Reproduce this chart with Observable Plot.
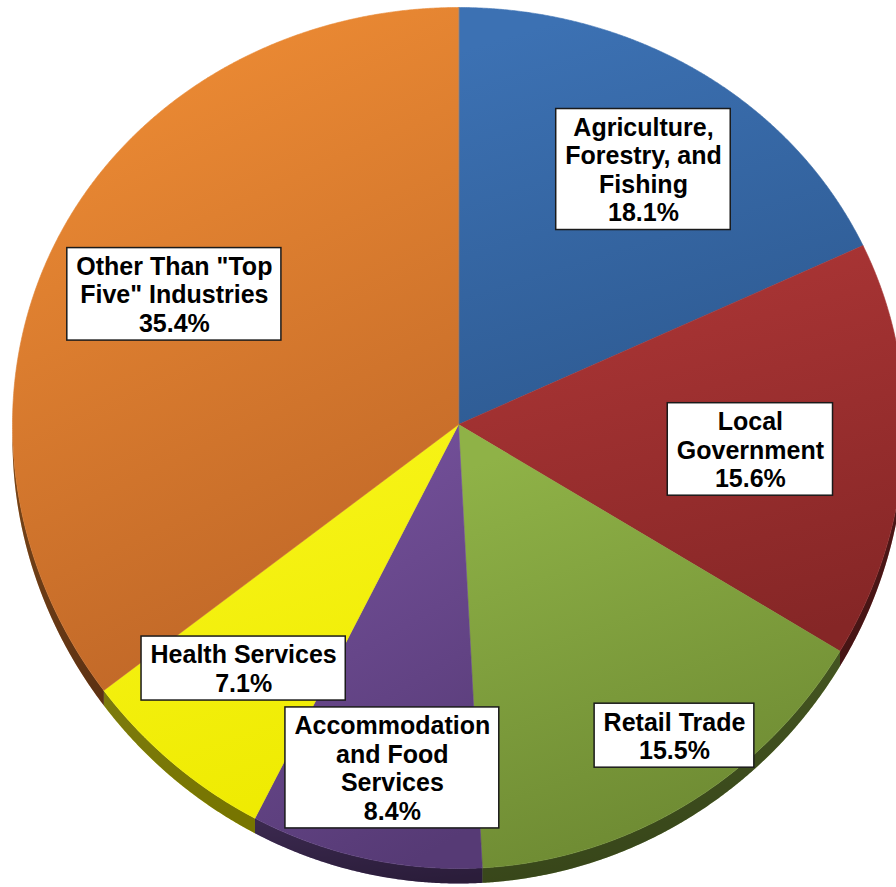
<!DOCTYPE html>
<html>
<head>
<meta charset="utf-8">
<script src="https://cdn.jsdelivr.net/npm/d3@7"></script>
<script src="https://cdn.jsdelivr.net/npm/@observablehq/plot@0.6"></script>
<style>
  html, body { margin: 0; padding: 0; background: #ffffff; }
  #chart { width: 896px; height: 887px; overflow: hidden; }
</style>
</head>
<body>
<div id="chart"></div>
<script>
// ---------- data ----------
const industries = [
  "Agriculture, Forestry, and Fishing",
  "Local Government",
  "Retail Trade",
  "Accommodation and Food Services",
  "Health Services",
  'Other Than "Top Five" Industries'
];
const shares = [18.1, 15.6, 15.5, 8.4, 7.1, 35.4];
const labelLines = [
  ["Agriculture,", "Forestry, and", "Fishing"],
  ["Local", "Government"],
  ["Retail Trade"],
  ["Accommodation", "and Food", "Services"],
  ["Health Services"],
  ['Other Than "Top', 'Five" Industries']
];

// ---------- layout / style (kept apart from the data) ----------
const W = 896, H = 887;
const RX = 446, RY = 430.5, CX = 458, CY = 424;   // pie geometry in pixels
const K = 0.03136;                               // perspective squash (top thinner than bottom)
const DEPTH = 15 / RY;                           // rim depth in y units
const labelRadius = [0.736, 0.657, 0.855, 0.788, 0.734, 0.707];   // fraction of radius
const labelTurn   = [1.75, 1.9, -3.57, -1.2, 1.1, -0.65];          // degrees from slice mid-angle
const faceTop    = ["#3c71b3", "#ad3636", "#8fb247", "#76529d", "#f8f51a", "#ee8c34"];
const faceBottom = ["#2d5990", "#852626", "#6b8731", "#563a75", "#eeea00", "#bd6527"];
const FONT = "'Liberation Sans', Arial, Helvetica, sans-serif";
const FONT_SIZE = 25, LINE_H = 1.14;

// ---------- geometry from data ----------
const proj = (t, r = 1) => [r * Math.sin(t), r * Math.cos(t) * (1 - K * Math.cos(t))];
const arcs = d3.pie().sort(null).value(d => d)(shares);

function arcPoints(t0, t1, step = 0.004) {
  const n = Math.max(2, Math.ceil((t1 - t0) / step));
  return d3.range(n + 1).map(j => proj(t0 + (t1 - t0) * j / n));
}

const faceRows = arcs.flatMap((a, i) => {
  const pts = [[0, 0], ...arcPoints(a.startAngle, a.endAngle)];
  return pts.map(([X, Y]) => ({slice: industries[i], X, Y}));
});

const rimRows = arcs.flatMap((a, i) => {
  const t0 = Math.max(a.startAngle, Math.PI / 2), t1 = Math.min(a.endAngle, 3 * Math.PI / 2);
  if (t1 <= t0) return [];
  const top = arcPoints(t0, t1);
  const bottom = top.map(([X, Y]) => [X, Y - DEPTH]).reverse();
  return [...top, ...bottom].map(([X, Y]) => ({slice: industries[i], X, Y}));
});

const bandTop = arcPoints(Math.PI / 2, 3 * Math.PI / 2);
const bandRows = [...bandTop, ...bandTop.map(([X, Y]) => [X, Y - DEPTH]).reverse()]
  .map(([X, Y]) => ({X, Y}));

const shadowRows = arcPoints(0, 2 * Math.PI).map(([X, Y]) => ({X, Y: Y - DEPTH - 4 / RY}));

// label positions near each slice's mid angle
const ctx = document.createElement("canvas").getContext("2d");
ctx.font = `bold ${FONT_SIZE}px ${FONT}`;
const labelRows = arcs.map((a, i) => {
  const mid = (a.startAngle + a.endAngle) / 2 + labelTurn[i] * Math.PI / 180;
  const [X, Y] = proj(mid, labelRadius[i]);
  const lines = [...labelLines[i], `${shares[i].toFixed(1)}%`];
  const w = d3.max(lines, s => ctx.measureText(s).width) + 18;
  const h = lines.length * FONT_SIZE * LINE_H + 7;
  return {slice: industries[i], X, Y, text: lines.join("\n"), w, h};
});

// ---------- defs (gradients, blur) ----------
function defsMark() {
  const ns = "http://www.w3.org/2000/svg";
  const defs = document.createElementNS(ns, "defs");
  let html = `<filter id="pieShadowBlur" x="-10%" y="-10%" width="120%" height="130%"><feGaussianBlur stdDeviation="5"/></filter>`;
  industries.forEach((_, i) => {
    html += `<linearGradient id="face${i}" x1="0.35" y1="0" x2="0.65" y2="1">
      <stop offset="0" stop-color="${faceTop[i]}"/><stop offset="1" stop-color="${faceBottom[i]}"/></linearGradient>`;
  });
  defs.innerHTML = html;
  return defs;
}

const marks = [
  defsMark,
  Plot.line(shadowRows, {x: "X", y: "Y", fill: "#000", fillOpacity: 0.42, stroke: "none", curve: "linear-closed", ariaLabel: "shadow"}),
  Plot.line(rimRows, {x: "X", y: "Y", z: "slice", fill: "slice", stroke: "none", curve: "linear-closed"}),
  Plot.line(bandRows, {x: "X", y: "Y", fill: "#000", fillOpacity: 0.5, stroke: "none", curve: "linear-closed"}),
  Plot.line(faceRows, {x: "X", y: "Y", z: "slice", fill: "slice", stroke: "slice", strokeWidth: 0.6, curve: "linear-closed"}),
  ...labelRows.map(r => Plot.rect([r], {
    x1: "X", x2: "X", y1: "Y", y2: "Y",
    fill: "white", stroke: "#1a1a1a", strokeWidth: 1.5,
    insetLeft: -r.w / 2, insetRight: -r.w / 2, insetTop: -r.h / 2, insetBottom: -r.h / 2
  })),
  Plot.text(labelRows, {
    x: "X", y: "Y", text: "text", fill: "#000",
    fontSize: FONT_SIZE, fontWeight: "bold", fontFamily: FONT, lineHeight: LINE_H
  })
];

const chart = Plot.plot({
  width: W, height: H,
  margin: 0,
  style: {background: "#ffffff", overflow: "hidden"},
  x: {domain: [-CX / RX, (W - CX) / RX], axis: null},
  y: {domain: [-(H - CY) / RY, CY / RY], axis: null},
  color: {domain: industries, range: industries.map((_, i) => `url(#face${i})`)},
  marks
});

const shadowG = chart.querySelector('g[aria-label="shadow"]');
if (shadowG) shadowG.setAttribute("filter", "url(#pieShadowBlur)");

document.getElementById("chart").appendChild(chart);
</script>
</body>
</html>
